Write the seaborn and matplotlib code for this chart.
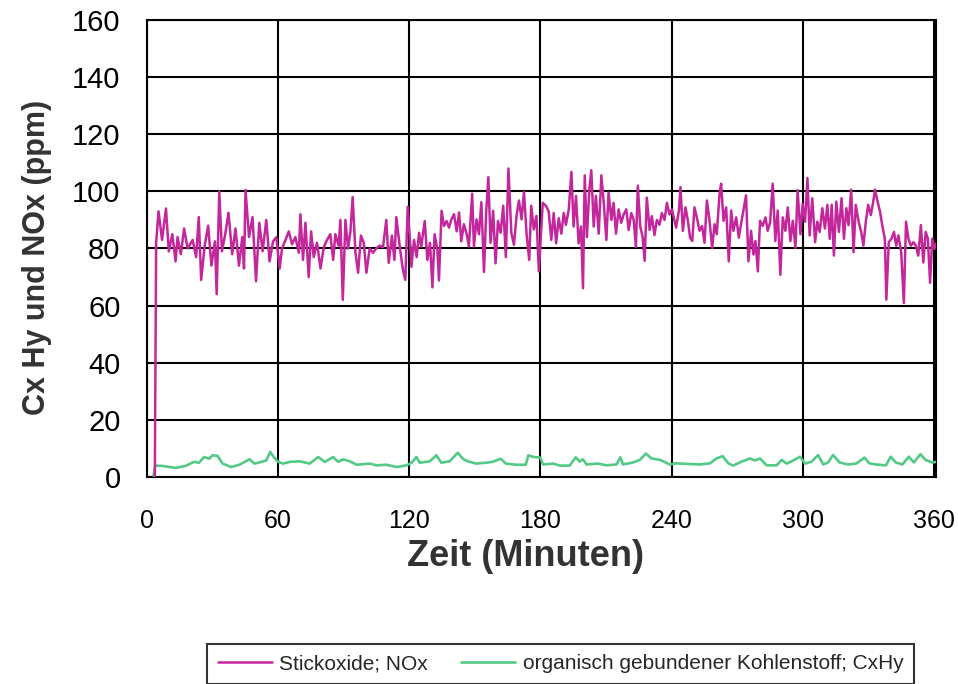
import numpy as np
import pandas as pd
import seaborn as sns
import matplotlib.pyplot as plt

# NOx trace (minutes, ppm)
nox_min = [3.6, 4.2, 5.3, 6.9, 8.7, 10.0, 11.6, 13.1, 14.0, 15.5, 17.0, 18.6, 20.9, 22.5, 23.7, 24.8,
           26.4, 28.0, 29.5, 31.1, 31.9, 33.1, 34.3, 35.8, 37.3, 39.0, 40.5, 42.1, 43.6, 44.4, 45.1,
           46.7, 48.3, 49.9, 51.4, 52.9, 54.6, 56.1, 57.7, 59.2, 60.7,
           61.8, 63.4, 64.9, 66.4, 67.9, 69.5, 70.2, 71.4, 72.5, 74.0, 75.1, 76.3, 77.8, 79.4, 80.9,
           82.4, 83.9, 85.2, 86.2, 87.7, 88.5, 89.6, 90.8, 92.0, 93.1, 94.1, 95.4, 96.6, 97.9, 99.2,
           100.4, 101.9, 103.4, 104.9, 106.5, 108.0, 109.5, 110.6, 112.1, 113.2, 114.1, 115.6, 117.1,
           118.2, 119.3, 120.5,
           121.0, 122.2, 123.4, 124.5, 125.5, 127.1, 128.3, 129.5, 130.6, 131.6, 132.9, 133.6, 134.8,
           135.9, 137.1, 138.2, 139.3, 140.5, 141.7, 142.8, 143.8, 145.0, 146.3, 147.3, 148.8, 149.6,
           150.8, 151.9, 153.0, 154.2, 155.2, 156.2, 157.2, 158.4, 159.5, 160.6, 161.8, 163.0, 164.2,
           165.4, 166.7, 167.9, 169.1, 170.2, 171.4, 172.5, 173.7, 174.9, 175.8, 177.0, 178.2, 179.3,
           181.1, 182.6, 183.8, 185.0, 186.1, 187.2, 188.4, 189.6, 190.7, 191.7, 193.0, 194.2, 195.2,
           196.3, 197.5, 198.6, 199.5, 200.3, 201.3, 202.4, 203.3, 204.4, 205.4, 206.7, 207.9, 209.0,
           210.2, 211.2, 212.5, 213.5, 214.6, 215.8, 217.0, 218.1, 219.3, 220.4, 221.6, 222.7, 223.7,
           224.6, 225.7, 226.8, 227.7, 228.7, 230.0, 231.0, 232.2, 233.3, 234.5, 235.6, 236.8, 237.9,
           239.1, 240.2,
           242.1, 243.4, 244.1, 245.2, 246.4, 247.5, 248.5, 249.5, 250.5, 251.6, 252.8, 254.0, 255.1,
           256.2, 257.4, 258.6, 259.7, 260.7, 262.0, 262.7, 263.8, 265.0, 266.2, 267.3, 268.3, 269.6,
           270.8, 271.8, 272.9, 274.1, 275.2, 276.4, 277.5, 278.4, 279.5, 280.5, 281.7, 283.0, 284.0,
           285.1, 286.3, 287.5, 288.6, 289.8, 290.9, 292.1, 293.2, 294.4, 295.5, 296.7, 297.7, 299.0,
           300.0,
           301.1, 302.2, 303.2, 304.4, 305.7, 306.7, 307.8, 309.0, 310.2, 311.3, 312.4, 313.3, 314.3,
           315.4, 316.6, 317.8, 318.9, 320.0, 321.0, 322.2, 323.3, 324.3, 325.6, 326.8, 327.8, 328.9,
           330.0, 331.2, 332.3, 333.1, 334.3, 335.4, 336.4, 337.6, 338.3, 339.4, 340.6, 341.8, 342.8,
           343.8, 345.1, 346.3, 347.3, 348.4, 349.5, 350.7, 351.8, 352.9, 354.1, 355.2, 356.3, 357.3,
           358.3, 359.3, 360.3, 361.0]
nox_ppm = [0, 82, 93, 83, 94, 79, 85, 75.5, 84, 78, 87, 80, 83, 77, 91, 69,
           81, 88, 74, 82.5, 64, 100, 79, 85, 92.5, 78, 87, 74, 84, 73, 100.5,
           84, 91, 68.5, 89, 79, 90, 75.5, 82.5, 84, 73,
           80, 83, 86, 81.5, 84, 78.5, 92, 76, 89, 70, 86, 77, 82, 73, 80.5,
           83, 85, 76, 85, 81, 90, 62, 90, 80, 86, 98, 78.5, 71.5, 84.5, 82,
           71.5, 80, 78.5, 80, 81, 80.5, 90, 75, 84.5, 76, 91, 81, 72.6,
           69, 94.6, 81,
           73.6, 83, 77, 85.5, 80.7, 89.6, 76, 82, 66.4, 85, 79.5, 68.8, 93.2,
           87.9, 89.6, 87.3, 90.2, 92, 86, 92.6, 82.5, 88.5, 85, 80.7, 99.2, 80.7,
           90.2, 85, 96.2, 71.8, 92.6, 105, 82, 93.2, 74.8, 89.6, 85.5, 95, 77,
           108, 85.5, 81.3, 91.4, 96.8, 90.2, 99.8, 85, 76, 95, 86.7, 91.4, 72,
           96, 94.9, 93, 83, 92.4, 81.8, 90.6, 85.2, 92.4, 88.3, 93.7, 106.8, 87.7,
           98.4, 81.8, 87.7, 66.1, 105.6, 84, 100.8, 107.4, 87.7, 98.4, 85.2, 105.6, 96,
           83, 99.6, 90, 96, 85.2, 93.7, 89, 91.9, 93.7, 86.5, 92.4, 90, 80.5,
           102, 87.7, 84, 75.7, 97.8, 86.5, 91.3, 84.7, 90, 88.3, 92.4, 90, 96,
           91.9, 93.7,
           87.3, 93.3, 101.5, 86.2, 94.4, 89.7, 83.8, 82.6, 94.4, 90.9, 86.2, 87.9, 82,
           96.8, 89.7, 80.2, 88.5, 85, 99.2, 102.7, 89.7, 94.4, 75.5, 93.3, 86.2, 90.9,
           83.8, 88.5, 93.3, 98.6, 75.5, 86.2, 77.9, 82.6, 72, 89.7, 87.9, 90.9, 86.2,
           89.1, 102.7, 82.6, 93.3, 70.8, 90.9, 86.2, 94.4, 82.6, 89.7, 80.2, 100.4, 85,
           95.6,
           89.4, 104.7, 84.6, 97.6, 82.2, 89.4, 85.8, 94.1, 87, 95.3, 83.4, 95.3, 77.5,
           96.4, 85.8, 97.6, 83.4, 94.1, 88.2, 100.6, 78.7, 95.3, 89.4, 85.8, 81, 89.4,
           95.3, 91.7, 96.4, 100.6, 96.4, 92.9, 88.2, 83.4, 62.1, 82.2, 83.4, 85.8, 81,
           84.6, 78.7, 60.9, 89.4, 83.4, 81, 82.2, 81, 77.5, 88.2, 75.1, 85.8, 83.4,
           68, 83.4, 79.9, 81.7]

# CxHy trace (minutes, ppm)
cxhy_min = [3.0, 3.8, 6.9, 13.1, 17.7, 21.5, 23.8, 26.1, 28.5, 30.0, 32.3, 34.6, 38.5, 42.3, 46.9,
            49.2, 52.3, 54.6, 56.4, 58.0, 60.0, 62.3, 65.3, 69.9, 74.5, 78.3, 81.4, 85.2, 87.5,
            89.8, 92.8, 95.9, 102.0, 105.0, 109.6, 114.2, 118.8, 121.1, 123.3, 124.8, 129.4, 132.4,
            134.7, 138.5, 142.2, 144.5, 146.8, 150.6, 155.1, 158.1, 161.9, 164.2, 168.7, 173.3,
            174.5, 177.0, 180.0, 181.2, 185.8, 188.9, 193.4, 196.2, 198.0, 199.5, 201.1, 206.4,
            210.2, 214.8, 216.6, 217.8, 222.4, 225.5, 228.3, 230.8, 234.7, 239.2, 242.3, 246.9,
            253.0, 257.6, 260.6, 263.4, 266.0, 268.2, 272.1, 275.9, 278.2, 280.5, 283.5, 288.1,
            290.4, 292.7, 295.7, 298.8, 301.1, 304.1, 307.1, 309.4, 311.6, 313.9, 316.9, 320.7,
            324.5, 328.3, 330.5, 333.5, 338.1, 340.3, 342.6, 345.6, 348.6, 350.9, 353.9, 356.2,
            359.2, 361.0]
cxhy_ppm = [0.5, 4, 3.9, 3.2, 3.9, 5.3, 5, 7, 6.4, 7.6, 7.4, 4.7, 3.5, 4.3, 6.2,
            4.7, 5.3, 5.8, 8.8, 7, 5.3, 4.7, 5.3, 5.5, 4.7, 7, 5.3, 7, 5.3,
            6.2, 5.5, 4.3, 4.7, 4.1, 4.3, 3.5, 4.1, 5, 7, 5, 5.5, 7.6,
            5, 5.5, 8.5, 6.4, 5.5, 4.7, 5, 5.3, 6.4, 4.7, 4.3, 4.3,
            7.6, 7, 6.8, 4.4, 4.7, 4.0, 4.0, 6.9, 5.4, 6.2, 4.4, 4.7,
            4.1, 4.4, 6.9, 4.4, 5.1, 6.0, 8.2, 6.5, 6.0, 4.4, 4.8, 4.6,
            4.4, 4.8, 6.5, 7.3, 4.8, 4.0, 5.4, 6.5, 5.8, 6.5, 4.1, 4.1,
            6.0, 4.7, 5.8, 7.1, 4.7, 5.4, 7.7, 4.4, 5.1, 7.7, 5.1, 4.4,
            4.7, 6.8, 4.8, 4.4, 4.1, 7.1, 5.1, 4.4, 7.1, 5.1, 8.0, 6.0,
            5.1, 5.3]

x_ticks = [0, 60, 120, 180, 240, 300, 360]
y_ticks = [0, 20, 40, 60, 80, 100, 120, 140, 160]

nox = pd.DataFrame({'Zeit': nox_min, 'ppm': nox_ppm})
cxhy = pd.DataFrame({'Zeit': cxhy_min, 'ppm': cxhy_ppm})

sns.set_style("white")
plt.rcParams['font.family'] = ['Liberation Sans', 'DejaVu Sans']

fig, ax = plt.subplots(figsize=(9.58, 6.84), dpi=100)
fig.subplots_adjust(left=0.1534, right=0.977, top=0.9708, bottom=0.3026)

sns.lineplot(data=nox, x='Zeit', y='ppm', ax=ax, color='#c4269c', lw=1.8,
             estimator=None, sort=False, label='Stickoxide; NOx', zorder=4)
sns.lineplot(data=cxhy, x='Zeit', y='ppm', ax=ax, color='#52c985', lw=1.9,
             estimator=None, sort=False, label='organisch gebundener Kohlenstoff; CxHy', zorder=3)

ax.set_xlim(0, 361)
ax.set_ylim(0, 160)
ax.set_xticks(x_ticks)
ax.set_yticks(y_ticks)
ax.grid(True, color='black', lw=1.5)
for s in ax.spines.values():
    s.set_color('black')
    s.set_linewidth(1.5)

ax.tick_params(axis='y', direction='out', length=9, width=1.3, pad=10, labelsize=21, colors='black')
ax.tick_params(axis='x', direction='out', length=5, width=1.3, pad=18, labelsize=18, colors='black')

ax.set_xlabel('Zeit (Minuten)', fontsize=26, fontweight='bold', color='#333333')
ax.set_ylabel('Cx Hy und NOx (ppm)', fontsize=22, fontweight='bold', color='#333333')
ax.xaxis.set_label_coords(0.48, -0.135)
ax.yaxis.set_label_coords(-0.12, 0.48)

ax.get_legend().remove()
handles, labels = ax.get_legend_handles_labels()
leg = fig.legend(handles, labels, loc='upper center', bbox_to_anchor=(0.585, 1 - 644 / 684),
                 ncol=2, fontsize=15, frameon=True, fancybox=False, handlelength=2.6,
                 handletextpad=0.35, columnspacing=1.6, borderpad=0.5, borderaxespad=0)
leg.get_frame().set_edgecolor('black')
leg.get_frame().set_linewidth(1.5)

plt.savefig('out.png', dpi=100)
